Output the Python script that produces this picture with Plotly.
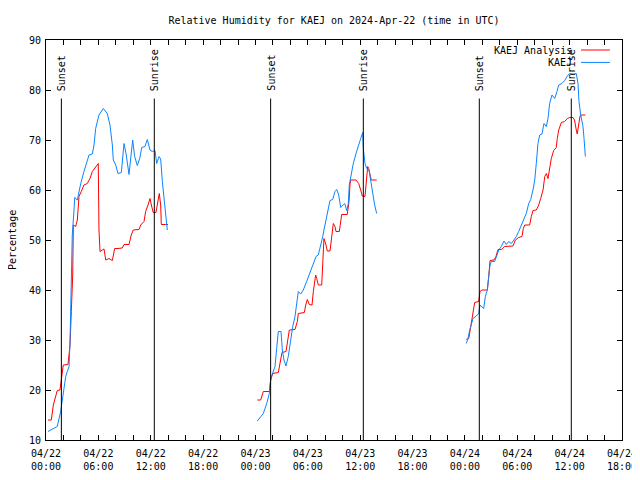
import plotly.graph_objects as go
import pandas as pd

BASE = pd.Timestamp("2024-04-22 00:00")

# ---- data: hours after 2024-04-22 00:00 UTC, relative humidity (%) ----
# KAEJ Analysis (red)
ana_hours_1 = [0.23, 0.61, 0.84, 1.11, 1.29, 1.60, 1.75, 1.98, 2.52, 2.64, 2.75, 2.90, 3.06, 3.13,
               3.40, 3.59, 3.78, 4.04, 4.35, 4.73, 5.04, 5.31, 5.69, 5.99, 6.07, 6.19, 6.45, 6.65,
               6.84, 7.22, 7.60, 7.87, 8.25, 8.74, 8.94, 9.51, 9.77, 10.00, 10.66, 10.85, 11.23,
               11.42, 11.69, 11.92, 12.07, 12.29, 12.60, 12.75, 12.98, 13.14, 13.21, 13.72, 13.98]
ana_rh_1 = [14, 14, 17, 19, 19.9, 20, 22.3, 25, 25.1, 27, 29, 35.7, 43, 53,
            52.7, 54, 58.7, 59.7, 61, 61.3, 62.3, 63.7, 64.7, 65.3, 52, 47.7, 48, 48.2,
            46, 46.3, 45.9, 48.3, 48.3, 48.4, 49.1, 49.1, 51, 52, 52.1, 53, 53.7,
            55.7, 57, 58.3, 57, 55.5, 55.5, 57, 59.3, 57, 53.1, 53.1, 53.1]

ana_hours_2 = [24.21, 24.60, 24.90, 25.59, 25.75, 25.98, 26.62, 26.89, 27.04, 27.50, 27.69, 27.88,
               28.53, 28.80, 28.91, 29.60, 29.76, 29.94, 30.17, 30.48, 30.63, 30.74, 30.90, 31.02,
               31.20, 31.59, 31.71, 31.85, 32.08, 32.23, 32.54, 32.74, 32.92, 33.11, 33.23, 33.61,
               33.77, 33.88, 34.52, 34.72, 34.83, 34.91, 35.52, 35.83, 36.06, 36.24, 36.55, 36.70,
               36.86, 36.97, 37.12, 37.27, 37.89]
ana_rh_2 = [18, 18, 19.7, 19.7, 22, 23.3, 23.5, 26, 27.5, 27.7, 30, 32,
            32.1, 33.7, 35.3, 35.5, 37, 38.1, 37.1, 37, 39.7, 41.3, 43, 42.3,
            41, 41, 46, 50.3, 49, 47.8, 47.8, 50.3, 53.3, 52.7, 51.7, 51.7,
            54, 55.1, 55.1, 57.7, 61, 62, 62, 61.3, 60, 58.8, 58.7, 61.7,
            64.7, 64.3, 62.7, 62, 62]

ana_hours_3 = [48.16, 48.44, 48.67, 48.93, 49.12, 49.58, 49.73, 49.96, 50.57, 50.73, 50.88, 51.33,
               51.56, 51.79, 52.17, 52.56, 52.94, 53.51, 53.78, 54.16, 54.54, 54.69, 54.85, 55.42,
               55.61, 55.80, 56.18, 56.46, 56.68, 56.95, 57.15, 57.33, 57.52, 57.71, 57.90, 58.17,
               58.47, 58.58, 58.75, 59.05, 59.43, 59.73, 60.00, 60.39, 60.56, 60.76, 60.87, 61.03,
               61.19, 61.42, 61.80]
ana_rh_3 = [30.1, 30.3, 32.7, 35.3, 37.5, 37.7, 39.7, 40, 40, 42.7, 45.9, 46,
            46.7, 48.1, 48.1, 48.7, 48.8, 48.8, 50, 50.5, 50.7, 52.3, 53, 53,
            54.7, 55.9, 56, 57, 58.3, 60, 62.7, 63.3, 62.3, 64.7, 66.3, 67.9,
            68.5, 70.3, 72, 73.5, 73.7, 74.3, 74.5, 74.5, 74, 72, 71.2, 73,
            74.8, 75, 75]

# KAEJ observations (blue)
obs_hours_1 = [0.23, 1.29, 1.68, 1.87, 2.06, 2.26, 2.44, 2.64, 2.75, 2.83, 2.90, 3.01, 3.21, 3.29,
               3.59, 3.78, 3.98, 4.35, 4.66, 4.93, 5.31, 5.50, 5.69, 6.07, 6.57, 7.02, 7.33, 7.60,
               7.71, 7.99, 8.25, 8.63, 8.94, 9.17, 9.51, 9.71, 9.93, 10.16, 10.46, 10.74, 10.97,
               11.34, 11.61, 11.92, 12.18, 12.49, 12.68, 12.95, 13.14, 13.33, 13.60, 13.90]
obs_rh_1 = [11.7, 12.7, 15.7, 18, 20, 22.7, 23.7, 24.7, 29.4, 38.4, 43, 51, 56, 58.5,
            58, 59.7, 61.3, 63.7, 65.7, 67, 67.2, 69, 72.3, 75, 76.3, 75.3, 73, 69,
            66, 65, 63.3, 63.5, 69.3, 67.3, 63.1, 66, 70, 66.7, 64.9, 66.3, 68.5,
            68.7, 70.1, 68, 67.7, 67.9, 65.3, 66.7, 66.2, 61.7, 56.3, 52]

obs_hours_2 = [24.21, 24.90, 25.29, 25.59, 25.75, 25.98, 26.24, 26.43, 26.62, 26.93, 27.08, 27.27,
               27.50, 27.76, 27.96, 28.27, 28.53, 28.73, 28.91, 29.18, 29.48, 29.87, 30.25, 30.63,
               30.94, 31.20, 31.48, 31.71, 31.85, 32.08, 32.35, 32.54, 32.85, 33.11, 33.31, 33.54,
               33.77, 34.00, 34.23, 34.46, 34.64, 34.75, 34.95, 35.21, 35.52, 35.79, 36.06, 36.29,
               36.36, 36.55, 36.75, 37.01, 37.21, 37.43, 37.66, 37.89]
obs_rh_2 = [13.8, 15.3, 17.3, 19.3, 22.3, 23.3, 24.7, 28.3, 31.7, 31.7, 28, 26,
            24.8, 26.7, 29.3, 32.7, 34.7, 37.3, 39.7, 39.2, 40, 41.7, 43.6, 45.5,
            46.7, 47, 48.8, 50.7, 52, 54, 56, 57.9, 58.1, 59.7, 60.1, 59,
            56.5, 57, 57.3, 55.9, 57.3, 61, 63, 65.3, 67.3, 69, 70.3, 71.5,
            68.3, 65.3, 64.3, 64, 61.7, 59.3, 57, 55.3]

obs_hours_3 = [48.16, 48.35, 48.55, 48.73, 48.93, 49.30, 49.58, 49.73, 49.96, 50.15, 50.34, 50.57,
               50.73, 50.88, 51.03, 51.41, 51.68, 51.87, 52.17, 52.48, 52.74, 53.02, 53.32, 53.62,
               53.89, 54.16, 54.46, 54.77, 55.03, 55.31, 55.54, 55.80, 56.00, 56.18, 56.37, 56.57,
               56.83, 57.06, 57.33, 57.52, 57.71, 57.98, 58.29, 58.55, 58.75, 59.12, 59.43, 59.73,
               60.00, 60.39, 60.76, 60.96, 61.07, 61.27, 61.53, 61.65, 61.80]
obs_rh_3 = [29.3, 30.3, 32, 33.3, 34.3, 34.8, 35.3, 37, 36.7, 36.3, 38.7, 40,
            42.7, 45, 45.7, 45.7, 47, 48, 48.7, 49.8, 49.1, 49.7, 49.3, 50,
            50.7, 51.7, 53, 54, 55.3, 57.3, 58.1, 60, 62, 65.3, 69.3, 71,
            71.2, 73.3, 72.7, 74.3, 77.3, 79, 78.3, 79.7, 81, 81.3, 81.9, 82.8,
            83.3, 83.2, 83.3, 81.3, 77.7, 75, 72.7, 70.3, 66.7]

sunset_hours = [1.76, 25.74, 49.65]
sunrise_hours = [12.41, 36.36, 60.19]

tick_hours = [0, 6, 12, 18, 24, 30, 36, 42, 48, 54, 60, 66]
tick_labels = ["04/22<br>00:00", "04/22<br>06:00", "04/22<br>12:00", "04/22<br>18:00",
               "04/23<br>00:00", "04/23<br>06:00", "04/23<br>12:00", "04/23<br>18:00",
               "04/24<br>00:00", "04/24<br>06:00", "04/24<br>12:00", "04/24<br>18:00"]

series_names = ["KAEJ Analysis", "KAEJ"]
series_colors = ["#ff0000", "#0a84ff"]

FONT = "DejaVu Sans Mono"
FIG_W, FIG_H = 632, 472  # page body has an 8px margin


def ts(h):
    return (BASE + pd.Timedelta(hours=h)).strftime("%Y-%m-%d %H:%M:%S")


def join(hour_lists, val_lists):
    xs, ys = [], []
    for hl, vl in zip(hour_lists, val_lists):
        if xs:
            xs.append(None)
            ys.append(None)
        xs += [ts(h) for h in hl]
        ys += list(vl)
    return xs, ys


ana_x, ana_y = join([ana_hours_1, ana_hours_2, ana_hours_3], [ana_rh_1, ana_rh_2, ana_rh_3])
obs_x, obs_y = join([obs_hours_1, obs_hours_2, obs_hours_3], [obs_rh_1, obs_rh_2, obs_rh_3])

fig = go.Figure()
fig.add_trace(go.Scatter(x=ana_x, y=ana_y, mode="lines", name=series_names[0],
                         line=dict(color=series_colors[0], width=1), showlegend=False))
fig.add_trace(go.Scatter(x=obs_x, y=obs_y, mode="lines", name=series_names[1],
                         line=dict(color=series_colors[1], width=1), showlegend=False))

shapes = []
annotations = []
for hours, label in [(sunset_hours, "Sunset"), (sunrise_hours, "Sunrise")]:
    for h in hours:
        shapes.append(dict(type="line", xref="x", yref="y", x0=ts(h), x1=ts(h), y0=10, y1=78.3,
                           line=dict(color="black", width=1)))
        annotations.append(dict(x=ts(h), y=79.4, xref="x", yref="y", text=label, textangle=-90,
                                showarrow=False, xanchor="center", yanchor="bottom",
                                font=dict(family=FONT, size=10, color="black")))

# manual gnuplot-style key (text then line sample)
key_rows = [0.975, 0.944]
for name, color, ky in zip(series_names, series_colors, key_rows):
    annotations.append(dict(x=0.9165, y=ky, xref="paper", yref="paper", text=name,
                            showarrow=False, xanchor="right", yanchor="middle",
                            font=dict(family=FONT, size=10, color="black")))
    shapes.append(dict(type="line", xref="paper", yref="paper", x0=0.9288, x1=0.979,
                       y0=ky, y1=ky, line=dict(color=color, width=1)))

annotations.append(dict(x=-0.059, y=0.5, xref="paper", yref="paper", text="Percentage",
                        textangle=-90, showarrow=False, xanchor="center", yanchor="middle",
                        font=dict(family=FONT, size=10, color="black")))

fig.update_layout(
    width=FIG_W, height=FIG_H, autosize=False,
    margin=dict(l=38, r=18, t=32, b=40, autoexpand=False),
    paper_bgcolor="white", plot_bgcolor="white",
    font=dict(family=FONT, size=10, color="black"),
    title=dict(text="Relative Humidity for KAEJ on 2024-Apr-22 (time in UTC)",
               x=0.5, xref="paper", xanchor="center", y=1 - 12 / FIG_H, yanchor="middle",
               font=dict(family=FONT, size=10, color="black")),
    shapes=shapes, annotations=annotations,
    showlegend=False,
)
fig.update_xaxes(
    type="date", range=[ts(0), ts(66)],
    tickvals=[ts(h) for h in tick_hours], ticktext=tick_labels,
    ticks="inside", ticklen=5, tickcolor="black", tickwidth=1,
    showline=True, linecolor="black", linewidth=1, mirror="ticks",
    showgrid=False, zeroline=False, ticklabelstandoff=4,
    minor=dict(ticks="inside", ticklen=5, tickcolor="black", dtick=2 * 3600 * 1000,
               tick0=ts(0), showgrid=False),
    tickfont=dict(family=FONT, size=10, color="black"),
)
fig.update_yaxes(
    range=[10, 90], dtick=10, tick0=10,
    ticks="inside", ticklen=5, tickcolor="black", tickwidth=1,
    showline=True, linecolor="black", linewidth=1, mirror="ticks",
    showgrid=False, zeroline=False, ticklabelstandoff=2,
    tickfont=dict(family=FONT, size=10, color="black"),
)

fig.write_html("out.html")
